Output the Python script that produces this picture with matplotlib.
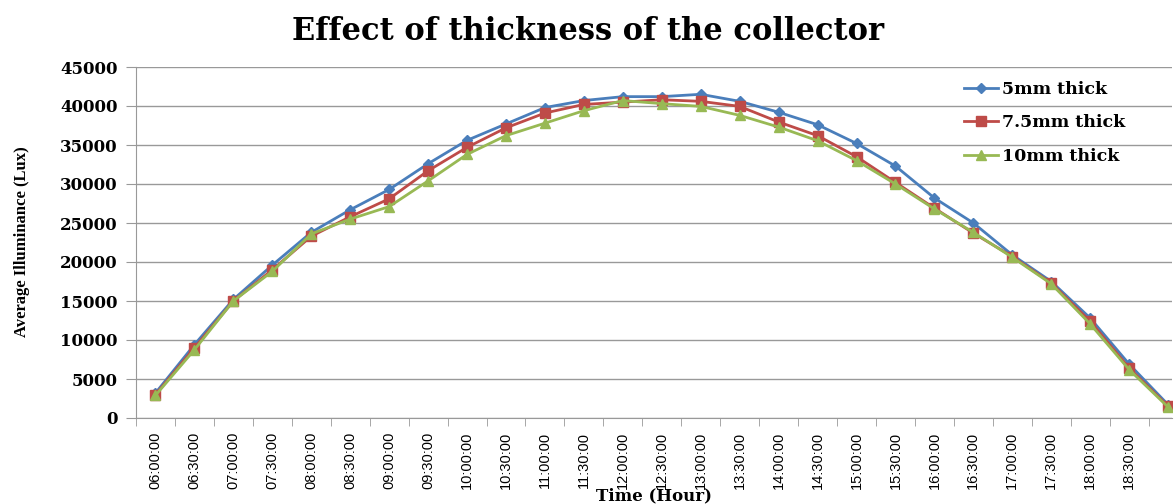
import numpy as np
import matplotlib
matplotlib.use("Agg")
import matplotlib.pyplot as plt

times = ["06:00:00", "06:30:00", "07:00:00", "07:30:00", "08:00:00", "08:30:00",
         "09:00:00", "09:30:00", "10:00:00", "10:30:00", "11:00:00", "11:30:00",
         "12:00:00", "12:30:00", "13:00:00", "13:30:00", "14:00:00", "14:30:00",
         "15:00:00", "15:30:00", "16:00:00", "16:30:00", "17:00:00", "17:30:00",
         "18:00:00", "18:30:00", "19:00:00"]

thick_5 = [3200, 9400, 15200, 19600, 23800, 26700, 29300, 32600, 35600, 37700,
           39800, 40700, 41200, 41200, 41500, 40600, 39200, 37600, 35200, 32300,
           28200, 25000, 20900, 17500, 12800, 6900, 1700]
thick_7_5 = [3000, 9000, 15000, 19000, 23300, 25800, 28100, 31700, 34700, 37200,
             39100, 40200, 40500, 40800, 40600, 39950, 37950, 36200, 33500, 30200,
             26900, 23700, 20700, 17300, 12400, 6400, 1500]
thick_10 = [2900, 8750, 15000, 18800, 23600, 25500, 27100, 30400, 33800, 36200,
            37800, 39400, 40700, 40300, 39950, 38800, 37300, 35550, 33000, 30000,
            26800, 23800, 20600, 17200, 12050, 6200, 1400]

series = [
    ("5mm thick", thick_5, "#4a7ebb", "D", 5),
    ("7.5mm thick", thick_7_5, "#be4b48", "s", 6.5),
    ("10mm thick", thick_10, "#98b954", "^", 7),
]

W, H = 1175, 504
fig = plt.figure(figsize=(W / 100, H / 100), dpi=100)
ax = fig.add_axes([136 / W, 1 - 418 / H, (1172 - 136) / W, (418 - 67) / H])

x = np.arange(len(times))
for label, vals, col, mk, ms in series:
    ax.plot(x, vals, color=col, lw=2, marker=mk, ms=ms, label=label, zorder=3)

grid_col = "#999999"
ax.set_ylim(0, 45000)
ax.set_yticks(np.arange(0, 45001, 5000))
ax.yaxis.grid(True, color=grid_col, lw=1)
ax.set_axisbelow(True)
ax.set_xlim(-0.5, 26.1)

# labels at category centres, tick marks at the boundaries
ax.set_xticks(x[:-1])
ax.set_xticklabels(times[:-1], rotation=90, fontsize=10.5, family="Liberation Sans")
ax.set_xticks(np.arange(-0.5, 26, 1), minor=True)
ax.tick_params(axis="x", which="major", length=0, pad=10)
ax.tick_params(axis="x", which="minor", length=6, color=grid_col, direction="out")
ax.tick_params(axis="y", length=7, color=grid_col, pad=6)
for t in ax.get_yticklabels():
    t.set_family("DejaVu Serif")
    t.set_fontweight("bold")
    t.set_fontsize(12)

for s in ["top", "right"]:
    ax.spines[s].set_visible(False)
for s in ["left", "bottom"]:
    ax.spines[s].set_color(grid_col)

fig.text(588 / W, 1 - 31 / H, "Effect of thickness of the collector",
         ha="center", va="center", fontsize=22, fontweight="bold", family="DejaVu Serif")
fig.text(22 / W, 1 - 242 / H, "Average Illuminance (Lux)", rotation=90,
         ha="center", va="center", fontsize=12, fontweight="bold", family="Liberation Serif")
fig.text(654 / W, 1 - 496 / H, "Time (Hour)", ha="center", va="center",
         fontsize=12, fontweight="bold", family="DejaVu Serif")

ax.legend(loc="upper left", bbox_to_anchor=(955 / W, 1 - 72 / H),
          bbox_transform=fig.transFigure, frameon=False,
          prop={"family": "DejaVu Serif", "weight": "bold", "size": 12.5},
          handlelength=2.0, handletextpad=0.2, labelspacing=0.95, borderpad=0)

fig.savefig("out.png", dpi=100, facecolor="white")
